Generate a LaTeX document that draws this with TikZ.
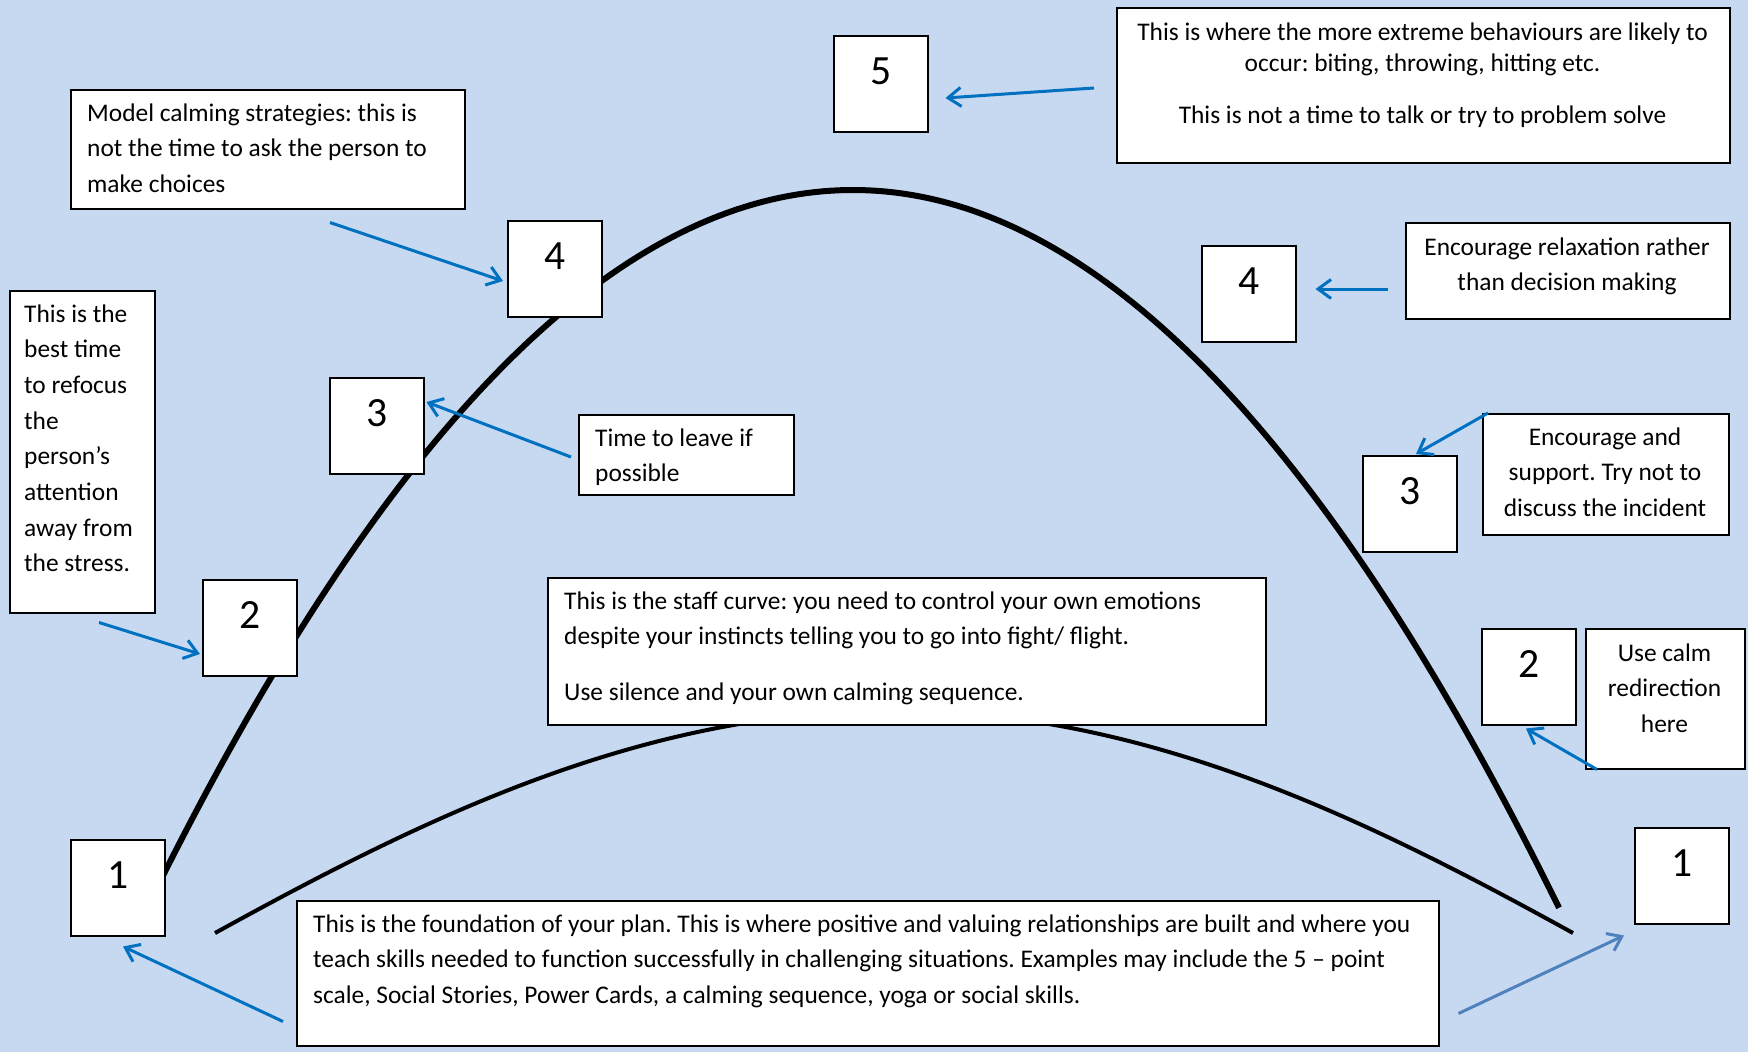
\documentclass[tikz,border=0pt]{standalone}
\usepackage{fontspec}
\setmainfont{Carlito}
\usetikzlibrary{arrows.meta,calc}
\definecolor{bg}{HTML}{C6D9F1}
\definecolor{arrblue}{HTML}{0070C0}
\definecolor{arrsteel}{HTML}{4F81BD}
\newcommand\txtA{\fontsize{25.4}{35.7}\selectfont}
\newcommand\txtC{\fontsize{25.4}{31}\selectfont}
\newcommand\numfont{\fontsize{41.6}{50}\selectfont}
\frenchspacing
\begin{document}
\begin{tikzpicture}[x=1pt,y=-1pt,
  box/.style={draw=black, line width=1.5pt, fill=white, inner sep=0pt, anchor=north west},
  numbox/.style={box, minimum width=94pt, text height=49pt, text depth=47pt, font=\numfont},
  txt/.style={inner sep=0pt, font=\txtA},
  arr/.style={draw=arrblue, line width=3pt, -{Straight Barb[length=13pt,width=19pt]}},
  bigcurve/.style={draw=black, line width=6pt},
  staffcurve/.style={draw=black, line width=4pt}]
\useasboundingbox (0,0) rectangle (1748,1052);
\fill[bg] (0,0) rectangle (1748,1052);

% curves
\draw[bigcurve] plot[domain=150:1559, samples=160] (\x,{190+14.4*((\x-853)/100)^2});
\draw[staffcurve] plot[domain=215:1573, samples=160] (\x,{710.7+5.583*((\x-894)/100)^2-0.0165*((\x-894)/100)^4});

% number boxes
\node[numbox] (n5)  at (833,35)   {5};
\node[numbox] (n4R) at (1201,245) {4};
\node[numbox] (n3R) at (1362,455) {3};
\node[numbox] (n2R) at (1481,628) {2};
\node[numbox] (n1R) at (1634,827) {1};
\node[numbox] (n4L) at (507,220)  {4};
\node[numbox] (n3L) at (329,377)  {3};
\node[numbox] (n2L) at (202,579)  {2};
\node[numbox] (n1L) at (70,839)   {1};

% text boxes
\node[box, minimum width=394pt,  minimum height=119pt] (bA) at (70,89)    {};
\node[box, minimum width=145pt,  minimum height=322pt] (bB) at (9,290)    {};
\node[box, minimum width=613pt,  minimum height=155pt] (bC) at (1116,7)   {};
\node[box, minimum width=324pt,  minimum height=96pt]  (bD) at (1405,222) {};
\node[box, minimum width=246pt,  minimum height=121pt] (bE) at (1482,413) {};
\node[box, minimum width=159pt,  minimum height=140pt] (bF) at (1585,628) {};
\node[box, minimum width=215pt,  minimum height=80pt]  (bT) at (578,414)  {};
\node[box, minimum width=718pt,  minimum height=147pt] (bS) at (547,577)  {};
\node[box, minimum width=1142pt, minimum height=145pt] (bG) at (296,900)  {};

% texts
\node[txt, anchor=base west] (tA) at (87,121) {\begin{tabular}[t]{@{}l@{}}Model calming strategies: this is\\not the time to ask the person to\\make choices\end{tabular}};
\node[txt, anchor=base west] (tB) at (24,322) {\begin{tabular}[t]{@{}l@{}}This is the\\best time\\to refocus\\the\\person’s\\attention\\away from\\the stress.\end{tabular}};
\node[txt, anchor=base, font=\txtC] (tC) at (1422.5,40) {\begin{tabular}[t]{@{}c@{}}This is where the more extreme behaviours are likely to\\occur: biting, throwing, hitting etc.\\[21pt]This is not a time to talk or try to problem solve\end{tabular}};
\node[txt, anchor=base] (tD) at (1567,255) {\begin{tabular}[t]{@{}c@{}}Encourage relaxation rather\\than decision making\end{tabular}};
\node[txt, anchor=base] (tE) at (1605,445) {\begin{tabular}[t]{@{}c@{}}Encourage and\\support. Try not to\\discuss the incident\end{tabular}};
\node[txt, anchor=base] (tF) at (1664.5,661) {\begin{tabular}[t]{@{}c@{}}Use calm\\redirection\\here\end{tabular}};
\node[txt, anchor=base west] (tT) at (595,446) {\begin{tabular}[t]{@{}l@{}}Time to leave if\\possible\end{tabular}};
\node[txt, anchor=base west] (tS) at (564,609) {\begin{tabular}[t]{@{}l@{}}This is the staff curve: you need to control your own emotions\\despite your instincts telling you to go into fight/ flight.\\[20pt]Use silence and your own calming sequence.\end{tabular}};
\node[txt, anchor=base west] (tG) at (313,932) {\begin{tabular}[t]{@{}l@{}}This is the foundation of your plan. This is where positive and valuing relationships are built and where you\\teach skills needed to function successfully in challenging situations. Examples may include the 5 – point\\scale, Social Stories, Power Cards, a calming sequence, yoga or social skills.\end{tabular}};

% arrows
\draw[arr] ($(bC.north west)+(-22,81)$) -- ($(n5.north east)+(17,63)$);
\draw[arr] ($(bD.north west)+(-17,67)$) -- ($(n4R.north east)+(19,44)$);
\draw[arr] ($(bE.north west)+(6,0)$) -- ($(n3R.north west)+(54,-1)$);
\draw[arr] ($(bF.south west)+(12,0)$) -- ($(n2R.south west)+(45,3)$);
\draw[arr, draw=arrsteel] ($(bG.south east)+(19,-33)$) -- ($(n1R.south west)+(-10,11)$);
\draw[arr] ($(bA.south west)+(260,13)$) -- ($(n4L.north west)+(-4,61)$);
\draw[arr] ($(bT.north west)+(-7,43)$) -- ($(n3L.north east)+(2,25)$);
\draw[arr] ($(bB.south west)+(90,9)$) -- ($(n2L.north west)+(-2,75)$);
\draw[arr] ($(bG.south west)+(-13,-25)$) -- ($(n1L.south west)+(53,10)$);
\end{tikzpicture}
\end{document}
